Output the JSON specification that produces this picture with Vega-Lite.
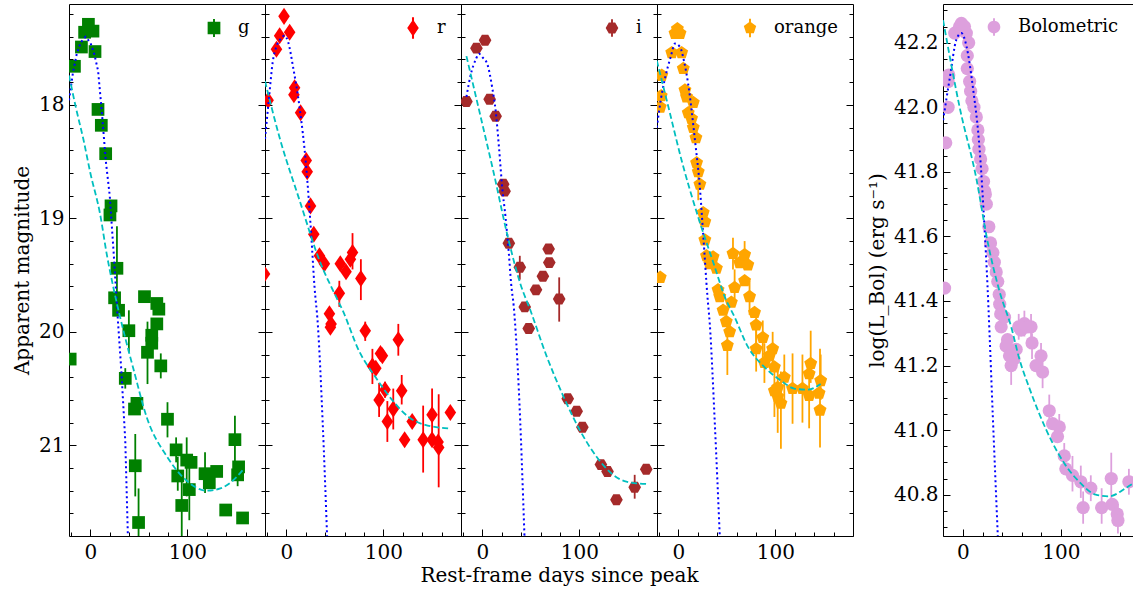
{
"$schema": "https://vega.github.io/schema/vega-lite/v6.json",
"padding": {"left": 12, "top": 3, "right": 0, "bottom": 0},
"config": {
 "font": "DejaVu Serif",
 "view": {"stroke": "#000000", "strokeWidth": 1},
 "axis": {"grid": false, "domain": false, "labelFont": "DejaVu Serif", "labelFontSize": 20, "labelColor": "#000000", "titleFont": "DejaVu Serif", "titleFontSize": 20, "titleFontWeight": "normal", "titleColor": "#000000", "tickColor": "#000000", "tickWidth": 1, "labelOverlap": false, "labelFlush": false, "labelBound": false},
 "legend": {"labelFont": "DejaVu Serif", "labelFontSize": 18, "labelColor": "#000000", "padding": 0, "symbolStrokeWidth": 0, "symbolOpacity": 1, "orient": "top-right", "offset": 15, "labelOffset": 15, "symbolSize": 150, "title": null}
},
"datasets": {
 "g": [{"t":-20.8,"mag":20.24},{"t":-16.4,"mag":17.66},{"t":-9.2,"mag":17.49},{"t":-5.9,"mag":17.36},{"t":-2.0,"mag":17.29},{"t":2.7,"mag":17.35},{"t":4.8,"mag":17.53},{"t":7.9,"mag":18.04},{"t":11.3,"mag":18.18},{"t":15.8,"mag":18.43},{"t":21.3,"mag":18.89},{"t":20.2,"mag":18.97},{"t":27.4,"mag":19.44,"lo":19.07,"hi":19.81},{"t":25.0,"mag":19.70},{"t":29.1,"mag":19.81},{"t":39.7,"mag":19.99,"lo":19.81,"hi":20.18},{"t":36.0,"mag":20.41,"lo":20.32,"hi":20.50},{"t":45.5,"mag":20.68},{"t":48.0,"mag":20.63},{"t":46.3,"mag":21.18,"lo":20.90,"hi":21.45},{"t":49.7,"mag":21.68,"lo":21.38,"hi":21.95},{"t":55.8,"mag":19.69,"lo":19.65,"hi":19.73},{"t":68.5,"mag":19.75},{"t":70.6,"mag":19.80},{"t":68.5,"mag":19.93},{"t":63.3,"mag":20.03},{"t":63.3,"mag":20.10},{"t":58.9,"mag":20.18,"lo":19.91,"hi":20.46},{"t":72.6,"mag":20.30,"lo":20.19,"hi":20.41},{"t":79.5,"mag":20.77,"lo":20.62,"hi":20.93},{"t":88.4,"mag":21.04,"lo":20.93,"hi":21.15},{"t":90.1,"mag":21.27,"lo":21.10,"hi":21.40},{"t":94.2,"mag":21.53,"lo":21.28,"hi":21.85},{"t":99.3,"mag":21.13,"lo":20.93,"hi":21.45},{"t":103.8,"mag":21.15},{"t":102.0,"mag":21.39,"lo":21.19,"hi":21.66},{"t":118.2,"mag":21.25,"lo":21.06,"hi":21.42},{"t":122.6,"mag":21.33},{"t":130.2,"mag":21.23},{"t":139.5,"mag":21.57,"lo":21.52,"hi":21.62},{"t":149.0,"mag":20.95,"lo":20.74,"hi":21.19},{"t":151.8,"mag":21.26,"lo":21.15,"hi":21.36},{"t":152.8,"mag":21.19},{"t":156.9,"mag":21.64,"lo":21.60,"hi":21.68}],
 "g_blue": [{"t":-22,"mag":17.96},{"t":-18,"mag":17.72},{"t":-14,"mag":17.55},{"t":-10,"mag":17.45},{"t":-5,"mag":17.40},{"t":0,"mag":17.45},{"t":4,"mag":17.55},{"t":8,"mag":17.70},{"t":12,"mag":18.08},{"t":16,"mag":18.50},{"t":20,"mag":18.80},{"t":24,"mag":19.30},{"t":28,"mag":19.85},{"t":32,"mag":20.35},{"t":36,"mag":20.96},{"t":38.7,"mag":21.80}],
 "g_cyan": [{"t":-22,"mag":17.74},{"t":-15,"mag":18.02},{"t":-7,"mag":18.31},{"t":0,"mag":18.60},{"t":10,"mag":18.96},{"t":17,"mag":19.32},{"t":24,"mag":19.62},{"t":35,"mag":20.02},{"t":44.5,"mag":20.33},{"t":58,"mag":20.75},{"t":79,"mag":21.10},{"t":99,"mag":21.31},{"t":120,"mag":21.40},{"t":134,"mag":21.38},{"t":147,"mag":21.31},{"t":157,"mag":21.22}],
 "r": [{"t":-22.5,"mag":19.49},{"t":-18.8,"mag":17.96},{"t":-10.2,"mag":17.51},{"t":-6.9,"mag":17.39},{"t":-2.4,"mag":17.22},{"t":3.4,"mag":17.36},{"t":8.5,"mag":17.85},{"t":7.8,"mag":17.91},{"t":14.7,"mag":18.07},{"t":20.5,"mag":18.49},{"t":21.5,"mag":18.59},{"t":24.9,"mag":18.89},{"t":28.3,"mag":19.14},{"t":34.1,"mag":19.33},{"t":39.2,"mag":19.40},{"t":55.6,"mag":19.40},{"t":61.5,"mag":19.47},{"t":68.2,"mag":19.30,"lo":19.13,"hi":19.45},{"t":66.0,"mag":19.36},{"t":76.8,"mag":19.53,"lo":19.36,"hi":19.72},{"t":54.6,"mag":19.66,"lo":19.55,"hi":19.78},{"t":44.4,"mag":19.84},{"t":46.1,"mag":19.93},{"t":45.4,"mag":19.96},{"t":81.3,"mag":19.99,"lo":19.91,"hi":20.08},{"t":115.4,"mag":20.07,"lo":19.93,"hi":20.21},{"t":99.0,"mag":20.21},{"t":97.0,"mag":20.19},{"t":88.7,"mag":20.30,"lo":20.15,"hi":20.46},{"t":92.2,"mag":20.32},{"t":101.7,"mag":20.51,"lo":20.44,"hi":20.58},{"t":95.6,"mag":20.60,"lo":20.45,"hi":20.75},{"t":110.2,"mag":20.68,"lo":20.50,"hi":20.86},{"t":118.9,"mag":20.52,"lo":20.38,"hi":20.64},{"t":104.1,"mag":20.79,"lo":20.61,"hi":20.97},{"t":129.7,"mag":20.79},{"t":121.9,"mag":20.95},{"t":141.0,"mag":20.95,"lo":20.65,"hi":21.24},{"t":150.2,"mag":20.73,"lo":20.50,"hi":20.98},{"t":150.2,"mag":20.95},{"t":156.4,"mag":20.97},{"t":157.0,"mag":21.02,"lo":20.55,"hi":21.37},{"t":169.0,"mag":20.71}],
 "r_blue": [{"t":-22,"mag":18.30},{"t":-18,"mag":17.95},{"t":-14,"mag":17.62},{"t":-10,"mag":17.48},{"t":-6,"mag":17.42},{"t":-2,"mag":17.39},{"t":2,"mag":17.45},{"t":7,"mag":17.67},{"t":13.6,"mag":18.02},{"t":20.5,"mag":18.55},{"t":25.6,"mag":19.14},{"t":29,"mag":19.60},{"t":32.4,"mag":19.93},{"t":37.5,"mag":20.81},{"t":42,"mag":21.80}],
 "r_cyan": [{"t":-22,"mag":17.79},{"t":-6.9,"mag":18.29},{"t":13.6,"mag":18.84},{"t":34.1,"mag":19.37},{"t":51.2,"mag":19.69},{"t":58,"mag":19.81},{"t":75,"mag":20.17},{"t":92,"mag":20.40},{"t":109,"mag":20.60},{"t":126,"mag":20.75},{"t":143,"mag":20.82},{"t":167,"mag":20.85}],
 "i": [{"t":-16.4,"mag":17.97},{"t":-6.1,"mag":17.50},{"t":2.8,"mag":17.43},{"t":7.5,"mag":17.95},{"t":13.7,"mag":18.10},{"t":21.5,"mag":18.70},{"t":22.9,"mag":18.76},{"t":27.3,"mag":19.22},{"t":38.6,"mag":19.43,"lo":19.33,"hi":19.54},{"t":68.3,"mag":19.27},{"t":69.0,"mag":19.39},{"t":62.4,"mag":19.51},{"t":55.3,"mag":19.63},{"t":79.2,"mag":19.71,"lo":19.52,"hi":19.91},{"t":43.7,"mag":19.78},{"t":47.8,"mag":19.97},{"t":88.0,"mag":20.59},{"t":97.2,"mag":20.70},{"t":103.1,"mag":20.84},{"t":122.2,"mag":21.17},{"t":129.0,"mag":21.23},{"t":138.2,"mag":21.48},{"t":157.0,"mag":21.37,"lo":21.26,"hi":21.47},{"t":168.9,"mag":21.21}],
 "i_blue": [{"t":-16.4,"mag":17.93},{"t":-11.9,"mag":17.73},{"t":-6.8,"mag":17.60},{"t":-3.4,"mag":17.55},{"t":0,"mag":17.58},{"t":5.1,"mag":17.64},{"t":10.2,"mag":17.85},{"t":13.7,"mag":18.05},{"t":17.1,"mag":18.37},{"t":20.5,"mag":18.73},{"t":23.9,"mag":18.99},{"t":27.3,"mag":19.31},{"t":29.7,"mag":19.58},{"t":32.4,"mag":19.78},{"t":37.6,"mag":20.51},{"t":43.4,"mag":21.80}],
 "i_cyan": [{"t":-16.4,"mag":17.57},{"t":-1.6,"mag":18.11},{"t":12,"mag":18.61},{"t":25.6,"mag":19.14},{"t":39.3,"mag":19.58},{"t":49.5,"mag":19.81},{"t":66.5,"mag":20.22},{"t":83.6,"mag":20.57},{"t":100.7,"mag":20.87},{"t":117.7,"mag":21.10},{"t":134.8,"mag":21.26},{"t":148.4,"mag":21.32},{"t":168.9,"mag":21.34}],
 "o": [{"t":-18.7,"mag":19.52},{"t":-17.1,"mag":17.74},{"t":-17.7,"mag":17.92},{"t":-18.7,"mag":18.02},{"t":-6.8,"mag":17.54},{"t":-3.4,"mag":17.37},{"t":-1.0,"mag":17.33},{"t":1.7,"mag":17.37},{"t":3.4,"mag":17.54},{"t":5.1,"mag":17.68},{"t":6.8,"mag":17.87},{"t":8.5,"mag":17.93},{"t":15.4,"mag":17.98},{"t":10.2,"mag":18.07},{"t":13.6,"mag":18.12},{"t":15.4,"mag":18.20},{"t":18.1,"mag":18.29},{"t":18.8,"mag":18.51},{"t":20.5,"mag":18.59,"lo":18.48,"hi":18.84},{"t":22.2,"mag":18.70},{"t":25.6,"mag":18.95},{"t":27.3,"mag":19.03},{"t":27.3,"mag":19.19},{"t":29.0,"mag":19.33},{"t":32.4,"mag":19.40},{"t":35.8,"mag":19.34},{"t":39.2,"mag":19.44},{"t":40.9,"mag":19.63},{"t":42.7,"mag":19.69},{"t":46.1,"mag":19.81},{"t":49.4,"mag":19.91},{"t":52.9,"mag":20.00},{"t":50.5,"mag":20.12,"lo":19.95,"hi":20.38},{"t":54.6,"mag":19.74},{"t":56.3,"mag":19.31,"lo":19.17,"hi":19.45},{"t":58.0,"mag":19.61,"lo":19.45,"hi":19.75},{"t":63.2,"mag":19.39},{"t":68.3,"mag":19.32,"lo":19.20,"hi":19.45},{"t":71.6,"mag":19.41},{"t":68.3,"mag":19.55},{"t":73.4,"mag":19.69,"lo":19.55,"hi":19.85},{"t":78.5,"mag":19.83},{"t":80.2,"mag":19.94,"lo":19.80,"hi":20.12},{"t":87.0,"mag":20.05,"lo":19.90,"hi":20.30},{"t":80.2,"mag":20.15,"lo":19.98,"hi":20.35},{"t":97.2,"mag":20.15,"lo":20.00,"hi":20.35},{"t":93.9,"mag":20.21},{"t":88.7,"mag":20.27,"lo":20.10,"hi":20.45},{"t":99.0,"mag":20.31},{"t":109.2,"mag":20.40,"lo":20.20,"hi":20.60},{"t":102.4,"mag":20.49,"lo":20.30,"hi":20.89},{"t":102.4,"mag":20.57},{"t":105.7,"mag":20.63,"lo":20.35,"hi":21.03},{"t":99.0,"mag":20.52,"lo":20.30,"hi":20.75},{"t":117.7,"mag":20.50,"lo":20.19,"hi":20.81},{"t":127.9,"mag":20.50,"lo":20.20,"hi":20.80},{"t":134.8,"mag":20.56,"lo":20.35,"hi":20.85},{"t":136.4,"mag":20.28,"lo":19.99,"hi":20.45},{"t":134.8,"mag":20.37},{"t":146.7,"mag":20.43,"lo":20.20,"hi":20.60},{"t":145.0,"mag":20.54},{"t":146.0,"mag":20.69,"lo":20.15,"hi":21.02}],
 "o_blue": [{"t":-22.2,"mag":18.20},{"t":-18,"mag":17.95},{"t":-13.6,"mag":17.76},{"t":-8,"mag":17.58},{"t":-3.4,"mag":17.46},{"t":1.7,"mag":17.49},{"t":6,"mag":17.62},{"t":10.2,"mag":17.82},{"t":17.1,"mag":18.31},{"t":22.2,"mag":18.73},{"t":25.6,"mag":19.14},{"t":30,"mag":19.69},{"t":32.4,"mag":19.93},{"t":37.6,"mag":20.81},{"t":42.7,"mag":21.80}],
 "o_cyan": [{"t":-22.2,"mag":17.61},{"t":-10.2,"mag":18.02},{"t":3.4,"mag":18.49},{"t":20.5,"mag":18.99},{"t":37.6,"mag":19.43},{"t":47.8,"mag":19.69},{"t":58,"mag":19.87},{"t":71.6,"mag":20.13},{"t":88.7,"mag":20.31},{"t":105.7,"mag":20.43},{"t":119.4,"mag":20.50},{"t":133,"mag":20.51},{"t":146.7,"mag":20.46}],
 "bol": [{"t":-18.8,"logL":41.44},{"t":-17.6,"logL":41.89},{"t":-15.2,"logL":42.00},{"t":-15.2,"logL":42.08},{"t":-14.5,"logL":42.10},{"t":-8.4,"logL":42.23},{"t":-3.5,"logL":42.25},{"t":-1.6,"logL":42.26},{"t":1.5,"logL":42.25},{"t":3.4,"logL":42.23},{"t":5.8,"logL":42.20},{"t":4.4,"logL":42.16},{"t":4.4,"logL":42.12},{"t":6.8,"logL":42.08},{"t":7.8,"logL":42.05},{"t":9.1,"logL":42.02},{"t":11.2,"logL":42.00},{"t":13.6,"logL":41.97},{"t":15.2,"logL":41.93},{"t":15.7,"logL":41.90},{"t":16.3,"logL":41.87},{"t":18.0,"logL":41.84},{"t":19.5,"logL":41.81},{"t":21.0,"logL":41.77},{"t":22.1,"logL":41.74},{"t":22.8,"logL":41.73},{"t":23.8,"logL":41.70},{"t":26.4,"logL":41.63},{"t":28.1,"logL":41.58},{"t":30.5,"logL":41.55},{"t":32.0,"logL":41.52},{"t":33.9,"logL":41.49},{"t":35.5,"logL":41.46},{"t":37.0,"logL":41.42},{"t":37.5,"logL":41.39},{"t":38.5,"logL":41.36},{"t":39.0,"logL":41.32},{"t":42.4,"logL":41.35},{"t":44.1,"logL":41.26},{"t":47.5,"logL":41.23,"lo":41.18,"hi":41.28},{"t":49.2,"logL":41.20,"lo":41.14,"hi":41.25},{"t":45.5,"logL":41.28},{"t":52.0,"logL":41.22},{"t":54.3,"logL":41.25},{"t":56.9,"logL":41.32,"lo":41.28,"hi":41.36},{"t":59.3,"logL":41.31},{"t":62.7,"logL":41.33,"lo":41.29,"hi":41.37},{"t":66.1,"logL":41.32},{"t":69.5,"logL":41.32,"lo":41.28,"hi":41.36},{"t":70.5,"logL":41.27,"lo":41.22,"hi":41.30},{"t":79.7,"logL":41.23,"lo":41.20,"hi":41.27},{"t":74.6,"logL":41.20},{"t":81.3,"logL":41.18,"lo":41.13,"hi":41.22},{"t":88.1,"logL":41.06,"lo":41.01,"hi":41.11},{"t":91.5,"logL":41.02},{"t":98.3,"logL":41.01,"lo":40.97,"hi":41.05},{"t":96.5,"logL":40.98},{"t":103.4,"logL":40.92,"lo":40.88,"hi":40.96},{"t":105.0,"logL":40.88},{"t":111.8,"logL":40.86,"lo":40.81,"hi":40.92},{"t":120.3,"logL":40.84,"lo":40.79,"hi":40.89},{"t":130.5,"logL":40.82,"lo":40.78,"hi":40.86},{"t":122.7,"logL":40.76,"lo":40.71,"hi":40.81},{"t":141.6,"logL":40.76,"lo":40.71,"hi":40.82},{"t":151.4,"logL":40.85,"lo":40.78,"hi":40.93},{"t":152.4,"logL":40.77},{"t":157.5,"logL":40.74},{"t":158.2,"logL":40.72,"lo":40.68,"hi":40.77},{"t":169.4,"logL":40.84,"lo":40.80,"hi":40.88}],
 "bol_blue": [{"t":-20.3,"logL":41.96},{"t":-13.5,"logL":42.09},{"t":-6.7,"logL":42.21},{"t":-1.6,"logL":42.23},{"t":3.5,"logL":42.19},{"t":10.2,"logL":42.06},{"t":17,"logL":41.87},{"t":22.1,"logL":41.62},{"t":25,"logL":41.45},{"t":27.1,"logL":41.30},{"t":30.5,"logL":41.04},{"t":35.6,"logL":40.67}],
 "bol_cyan": [{"t":-20.3,"logL":42.27},{"t":-3.4,"logL":42.00},{"t":13.6,"logL":41.78},{"t":25.4,"logL":41.58},{"t":37.3,"logL":41.43},{"t":49.2,"logL":41.32},{"t":57.6,"logL":41.22},{"t":67.8,"logL":41.13},{"t":78,"logL":41.05},{"t":91.5,"logL":40.96},{"t":105,"logL":40.89},{"t":118.6,"logL":40.84},{"t":135.6,"logL":40.80},{"t":149.1,"logL":40.795},{"t":166,"logL":40.82},{"t":173.6,"logL":40.835}]
},
"spacing": 13,
"resolve": {"scale": {"color": "independent"}},
"hconcat": [
 {
  "spacing": 0,
  "bounds": "flush",
  "resolve": {"scale": {"color": "independent"}},
  "hconcat": [
   {
    "width": 196, "height": 532,
    "resolve": {"axis": {"x": "independent", "y": "independent"}},
    "layer": [
     {"data": {"name": "g"}, "transform": [{"filter": "isValid(datum.lo)"}],
      "mark": {"type": "rule", "color": "#008000", "strokeWidth": 1.8, "clip": true},
      "encoding": {"x": {"field": "t", "type": "quantitative", "scale": {"domain": [-22, 180], "nice": false, "zero": false}, "axis": null},
                   "y": {"field": "lo", "type": "quantitative", "scale": {"domain": [17.111, 21.799], "reverse": true, "nice": false, "zero": false}, "axis": null},
                   "y2": {"field": "hi"}}},
     {"data": {"name": "g"},
      "mark": {"type": "point", "filled": true, "opacity": 1, "shape": "square", "size": 162, "clip": true},
      "encoding": {"x": {"field": "t", "type": "quantitative", "scale": {"domain": [-22, 180], "nice": false, "zero": false},
                         "axis": {"orient": "bottom", "values": [-20,0,20,40,60,80,100,120,140,160,180], "labelExpr": "datum.value % 100 === 0 ? datum.label : ''", "labelFontSize": {"condition": {"test": "datum.value % 100 === 0", "value": 20}, "value": 0}, "tickSize": {"condition": {"test": "datum.value % 100 === 0", "value": -7}, "value": -4}, "labelPadding": 13, "title": null}},
                   "y": {"field": "mag", "type": "quantitative", "scale": {"domain": [17.111, 21.799], "reverse": true, "nice": false, "zero": false},
                         "axis": {"orient": "left", "values": [17.2,17.4,17.6,17.8,18,18.2,18.4,18.6,18.8,19,19.2,19.4,19.6,19.8,20,20.2,20.4,20.6,20.8,21,21.2,21.4,21.6], "labelExpr": "abs(datum.value-round(datum.value))<0.01 ? format(datum.value,'.0f') : ''", "labelFontSize": {"condition": {"test": "abs(datum.value-round(datum.value))<0.01", "value": 20}, "value": 0}, "tickSize": {"condition": {"test": "abs(datum.value-round(datum.value))<0.01", "value": -7}, "value": -4}, "labelPadding": 12, "title": "Apparent magnitude", "titlePadding": 6}},
                   "color": {"datum": "g", "type": "nominal", "scale": {"domain": ["g"], "range": ["#008000"]},
                             "legend": {"symbolType": "M-1,-1H1V1H-1Z M-0.15,-1.4H0.15V1.4H-0.15Z", "symbolSize": 162}}}},
     {"data": {"name": "g_blue"},
      "mark": {"type": "line", "color": "#0000ff", "strokeWidth": 2, "strokeDash": [2, 3], "clip": true},
      "encoding": {"x": {"field": "t", "type": "quantitative", "scale": {"domain": [-22, 180], "nice": false, "zero": false}, "axis": null},
                   "y": {"field": "mag", "type": "quantitative", "scale": {"domain": [17.111, 21.799], "reverse": true, "nice": false, "zero": false}, "axis": null}}},
     {"data": {"name": "g_cyan"},
      "mark": {"type": "line", "color": "#00bfbf", "strokeWidth": 1.8, "strokeDash": [6, 3], "clip": true, "interpolate": "monotone"},
      "encoding": {"x": {"field": "t", "type": "quantitative", "scale": {"domain": [-22, 180], "nice": false, "zero": false}, "axis": null},
                   "y": {"field": "mag", "type": "quantitative", "scale": {"domain": [17.111, 21.799], "reverse": true, "nice": false, "zero": false},
                         "axis": {"orient": "right", "values": [17.2,17.4,17.6,17.8,18,18.2,18.4,18.6,18.8,19,19.2,19.4,19.6,19.8,20,20.2,20.4,20.6,20.8,21,21.2,21.4,21.6], "labels": false, "tickSize": {"condition": {"test": "abs(datum.value-round(datum.value))<0.01", "value": -7}, "value": -4}, "title": null}}}}
    ]
   },
   {
    "width": 196, "height": 532,
    "resolve": {"axis": {"x": "independent", "y": "independent"}},
    "layer": [
     {"data": {"name": "r"}, "transform": [{"filter": "isValid(datum.lo)"}],
      "mark": {"type": "rule", "color": "#ff0000", "strokeWidth": 1.8, "clip": true},
      "encoding": {"x": {"field": "t", "type": "quantitative", "scale": {"domain": [-22, 180], "nice": false, "zero": false}, "axis": null},
                   "y": {"field": "lo", "type": "quantitative", "scale": {"domain": [17.111, 21.799], "reverse": true, "nice": false, "zero": false}, "axis": null},
                   "y2": {"field": "hi"}}},
     {"data": {"name": "r"},
      "mark": {"type": "point", "filled": true, "opacity": 1, "shape": "M0,-1L0.68,0L0,1L-0.68,0Z", "size": 290, "clip": true},
      "encoding": {"x": {"field": "t", "type": "quantitative", "scale": {"domain": [-22, 180], "nice": false, "zero": false},
                         "axis": {"orient": "bottom", "values": [-20,0,20,40,60,80,100,120,140,160,180], "labelExpr": "datum.value % 100 === 0 ? datum.label : ''", "labelFontSize": {"condition": {"test": "datum.value % 100 === 0", "value": 20}, "value": 0}, "tickSize": {"condition": {"test": "datum.value % 100 === 0", "value": -7}, "value": -4}, "labelPadding": 13, "title": null}},
                   "y": {"field": "mag", "type": "quantitative", "scale": {"domain": [17.111, 21.799], "reverse": true, "nice": false, "zero": false},
                         "axis": {"orient": "left", "values": [17.2,17.4,17.6,17.8,18,18.2,18.4,18.6,18.8,19,19.2,19.4,19.6,19.8,20,20.2,20.4,20.6,20.8,21,21.2,21.4,21.6], "labels": false, "tickSize": {"condition": {"test": "abs(datum.value-round(datum.value))<0.01", "value": -7}, "value": -4}, "title": null}},
                   "color": {"datum": "r", "type": "nominal", "scale": {"domain": ["r"], "range": ["#ff0000"]},
                             "legend": {"symbolType": "M0,-1L0.68,0L0,1L-0.68,0Z M-0.12,-1.25H0.12V1.25H-0.12Z", "symbolSize": 290}}}},
     {"data": {"name": "r_blue"},
      "mark": {"type": "line", "color": "#0000ff", "strokeWidth": 2, "strokeDash": [2, 3], "clip": true, "interpolate": "monotone"},
      "encoding": {"x": {"field": "t", "type": "quantitative", "scale": {"domain": [-22, 180], "nice": false, "zero": false}, "axis": null},
                   "y": {"field": "mag", "type": "quantitative", "scale": {"domain": [17.111, 21.799], "reverse": true, "nice": false, "zero": false}, "axis": null}}},
     {"data": {"name": "r_cyan"},
      "mark": {"type": "line", "color": "#00bfbf", "strokeWidth": 1.8, "strokeDash": [6, 3], "clip": true, "interpolate": "monotone"},
      "encoding": {"x": {"field": "t", "type": "quantitative", "scale": {"domain": [-22, 180], "nice": false, "zero": false}, "axis": null},
                   "y": {"field": "mag", "type": "quantitative", "scale": {"domain": [17.111, 21.799], "reverse": true, "nice": false, "zero": false},
                         "axis": {"orient": "right", "values": [17.2,17.4,17.6,17.8,18,18.2,18.4,18.6,18.8,19,19.2,19.4,19.6,19.8,20,20.2,20.4,20.6,20.8,21,21.2,21.4,21.6], "labels": false, "tickSize": {"condition": {"test": "abs(datum.value-round(datum.value))<0.01", "value": -7}, "value": -4}, "title": null}}}}
    ]
   },
   {
    "width": 196, "height": 532,
    "resolve": {"axis": {"x": "independent", "y": "independent"}},
    "layer": [
     {"data": {"name": "i"}, "transform": [{"filter": "isValid(datum.lo)"}],
      "mark": {"type": "rule", "color": "#a52a2a", "strokeWidth": 1.8, "clip": true},
      "encoding": {"x": {"field": "t", "type": "quantitative", "scale": {"domain": [-22, 180], "nice": false, "zero": false}, "axis": null},
                   "y": {"field": "lo", "type": "quantitative", "scale": {"domain": [17.111, 21.799], "reverse": true, "nice": false, "zero": false}, "axis": null},
                   "y2": {"field": "hi"}}},
     {"data": {"name": "i"},
      "mark": {"type": "point", "filled": true, "opacity": 1, "shape": "M-1,0L-0.5,-0.866L0.5,-0.866L1,0L0.5,0.866L-0.5,0.866Z", "size": 160, "clip": true},
      "encoding": {"x": {"field": "t", "type": "quantitative", "scale": {"domain": [-22, 180], "nice": false, "zero": false},
                         "axis": {"orient": "bottom", "values": [-20,0,20,40,60,80,100,120,140,160,180], "labelExpr": "datum.value % 100 === 0 ? datum.label : ''", "labelFontSize": {"condition": {"test": "datum.value % 100 === 0", "value": 20}, "value": 0}, "tickSize": {"condition": {"test": "datum.value % 100 === 0", "value": -7}, "value": -4}, "labelPadding": 13, "title": "Rest-frame days since peak", "titlePadding": 3}},
                   "y": {"field": "mag", "type": "quantitative", "scale": {"domain": [17.111, 21.799], "reverse": true, "nice": false, "zero": false},
                         "axis": {"orient": "left", "values": [17.2,17.4,17.6,17.8,18,18.2,18.4,18.6,18.8,19,19.2,19.4,19.6,19.8,20,20.2,20.4,20.6,20.8,21,21.2,21.4,21.6], "labels": false, "tickSize": {"condition": {"test": "abs(datum.value-round(datum.value))<0.01", "value": -7}, "value": -4}, "title": null}},
                   "color": {"datum": "i", "type": "nominal", "scale": {"domain": ["i"], "range": ["#a52a2a"]},
                             "legend": {"symbolType": "M-1,0L-0.5,-0.866L0.5,-0.866L1,0L0.5,0.866L-0.5,0.866Z M-0.15,-1.4H0.15V1.4H-0.15Z", "symbolSize": 160}}}},
     {"data": {"name": "i_blue"},
      "mark": {"type": "line", "color": "#0000ff", "strokeWidth": 2, "strokeDash": [2, 3], "clip": true, "interpolate": "monotone"},
      "encoding": {"x": {"field": "t", "type": "quantitative", "scale": {"domain": [-22, 180], "nice": false, "zero": false}, "axis": null},
                   "y": {"field": "mag", "type": "quantitative", "scale": {"domain": [17.111, 21.799], "reverse": true, "nice": false, "zero": false}, "axis": null}}},
     {"data": {"name": "i_cyan"},
      "mark": {"type": "line", "color": "#00bfbf", "strokeWidth": 1.8, "strokeDash": [6, 3], "clip": true, "interpolate": "monotone"},
      "encoding": {"x": {"field": "t", "type": "quantitative", "scale": {"domain": [-22, 180], "nice": false, "zero": false}, "axis": null},
                   "y": {"field": "mag", "type": "quantitative", "scale": {"domain": [17.111, 21.799], "reverse": true, "nice": false, "zero": false},
                         "axis": {"orient": "right", "values": [17.2,17.4,17.6,17.8,18,18.2,18.4,18.6,18.8,19,19.2,19.4,19.6,19.8,20,20.2,20.4,20.6,20.8,21,21.2,21.4,21.6], "labels": false, "tickSize": {"condition": {"test": "abs(datum.value-round(datum.value))<0.01", "value": -7}, "value": -4}, "title": null}}}}
    ]
   },
   {
    "width": 196, "height": 532,
    "resolve": {"axis": {"x": "independent", "y": "independent"}},
    "layer": [
     {"data": {"name": "o"}, "transform": [{"filter": "isValid(datum.lo)"}],
      "mark": {"type": "rule", "color": "#ffa500", "strokeWidth": 1.8, "clip": true},
      "encoding": {"x": {"field": "t", "type": "quantitative", "scale": {"domain": [-22, 180], "nice": false, "zero": false}, "axis": null},
                   "y": {"field": "lo", "type": "quantitative", "scale": {"domain": [17.111, 21.799], "reverse": true, "nice": false, "zero": false}, "axis": null},
                   "y2": {"field": "hi"}}},
     {"data": {"name": "o"},
      "mark": {"type": "point", "filled": true, "opacity": 1, "shape": "M0,-1L0.951,-0.309L0.588,0.809L-0.588,0.809L-0.951,-0.309Z", "size": 185, "clip": true},
      "encoding": {"x": {"field": "t", "type": "quantitative", "scale": {"domain": [-22, 180], "nice": false, "zero": false},
                         "axis": {"orient": "bottom", "values": [-20,0,20,40,60,80,100,120,140,160,180], "labelExpr": "datum.value % 100 === 0 ? datum.label : ''", "labelFontSize": {"condition": {"test": "datum.value % 100 === 0", "value": 20}, "value": 0}, "tickSize": {"condition": {"test": "datum.value % 100 === 0", "value": -7}, "value": -4}, "labelPadding": 13, "title": null}},
                   "y": {"field": "mag", "type": "quantitative", "scale": {"domain": [17.111, 21.799], "reverse": true, "nice": false, "zero": false},
                         "axis": {"orient": "left", "values": [17.2,17.4,17.6,17.8,18,18.2,18.4,18.6,18.8,19,19.2,19.4,19.6,19.8,20,20.2,20.4,20.6,20.8,21,21.2,21.4,21.6], "labels": false, "tickSize": {"condition": {"test": "abs(datum.value-round(datum.value))<0.01", "value": -7}, "value": -4}, "title": null}},
                   "color": {"datum": "orange", "type": "nominal", "scale": {"domain": ["orange"], "range": ["#ffa500"]},
                             "legend": {"symbolType": "M0,-1L0.951,-0.309L0.588,0.809L-0.588,0.809L-0.951,-0.309Z M-0.15,-1.4H0.15V1.4H-0.15Z", "symbolSize": 170}}}},
     {"data": {"name": "o_blue"},
      "mark": {"type": "line", "color": "#0000ff", "strokeWidth": 2, "strokeDash": [2, 3], "clip": true, "interpolate": "monotone"},
      "encoding": {"x": {"field": "t", "type": "quantitative", "scale": {"domain": [-22, 180], "nice": false, "zero": false}, "axis": null},
                   "y": {"field": "mag", "type": "quantitative", "scale": {"domain": [17.111, 21.799], "reverse": true, "nice": false, "zero": false}, "axis": null}}},
     {"data": {"name": "o_cyan"},
      "mark": {"type": "line", "color": "#00bfbf", "strokeWidth": 1.8, "strokeDash": [6, 3], "clip": true, "interpolate": "monotone"},
      "encoding": {"x": {"field": "t", "type": "quantitative", "scale": {"domain": [-22, 180], "nice": false, "zero": false}, "axis": null},
                   "y": {"field": "mag", "type": "quantitative", "scale": {"domain": [17.111, 21.799], "reverse": true, "nice": false, "zero": false},
                         "axis": {"orient": "right", "values": [17.2,17.4,17.6,17.8,18,18.2,18.4,18.6,18.8,19,19.2,19.4,19.6,19.8,20,20.2,20.4,20.6,20.8,21,21.2,21.4,21.6], "labels": false, "tickSize": {"condition": {"test": "abs(datum.value-round(datum.value))<0.01", "value": -7}, "value": -4}, "title": null}}}}
    ]
   }
  ]
 },
 {
  "width": 190, "height": 532,
  "view": {"stroke": null},
  "resolve": {"axis": {"x": "independent", "y": "independent"}},
  "layer": [
   {"data": {"name": "bol"}, "transform": [{"filter": "isValid(datum.lo)"}],
    "mark": {"type": "rule", "color": "#dda0dd", "strokeWidth": 1.8, "clip": true},
    "encoding": {"x": {"field": "t", "type": "quantitative", "scale": {"domain": [-20.4, 173.6], "nice": false, "zero": false}, "axis": null},
                 "y": {"field": "lo", "type": "quantitative", "scale": {"domain": [40.672, 42.32], "nice": false, "zero": false}, "axis": null},
                 "y2": {"field": "hi"}}},
   {"data": {"name": "bol"},
    "mark": {"type": "point", "filled": true, "opacity": 1, "shape": "circle", "size": 175, "clip": true},
    "encoding": {"x": {"field": "t", "type": "quantitative", "scale": {"domain": [-20.4, 173.6], "nice": false, "zero": false},
                       "axis": {"orient": "bottom", "domain": true, "domainColor": "#000000", "domainWidth": 1, "values": [-20,0,20,40,60,80,100,120,140,160], "labelExpr": "datum.value % 100 === 0 ? datum.label : ''", "labelFontSize": {"condition": {"test": "datum.value % 100 === 0", "value": 20}, "value": 0}, "tickSize": {"condition": {"test": "datum.value % 100 === 0", "value": -7}, "value": -4}, "labelPadding": 13, "title": null}},
                 "y": {"field": "logL", "type": "quantitative", "scale": {"domain": [40.672, 42.32], "nice": false, "zero": false},
                       "axis": {"orient": "left", "domain": true, "domainColor": "#000000", "domainWidth": 1, "values": [40.7,40.75,40.8,40.85,40.9,40.95,41,41.05,41.1,41.15,41.2,41.25,41.3,41.35,41.4,41.45,41.5,41.55,41.6,41.65,41.7,41.75,41.8,41.85,41.9,41.95,42,42.05,42.1,42.15,42.2,42.25,42.3], "labelExpr": "abs(datum.value*5-round(datum.value*5))<0.01 ? format(datum.value,'.1f') : ''", "labelFontSize": {"condition": {"test": "abs(datum.value*5-round(datum.value*5))<0.01", "value": 20}, "value": 0}, "tickSize": {"condition": {"test": "abs(datum.value*5-round(datum.value*5))<0.01", "value": -7}, "value": -4}, "labelPadding": 12, "title": "log(L_Bol) (erg s⁻¹)", "titlePadding": 6}},
                 "color": {"datum": "Bolometric", "type": "nominal", "scale": {"domain": ["Bolometric"], "range": ["#dda0dd"]},
                           "legend": {"symbolType": "M-1,0A1,1 0 1,1 1,0A1,1 0 1,1 -1,0Z M-0.15,-1.4H0.15V1.4H-0.15Z", "symbolSize": 160, "offset": 14}}}},
   {"data": {"name": "bol_blue"},
    "mark": {"type": "line", "color": "#0000ff", "strokeWidth": 2, "strokeDash": [2, 3], "clip": true, "interpolate": "monotone"},
    "encoding": {"x": {"field": "t", "type": "quantitative", "scale": {"domain": [-20.4, 173.6], "nice": false, "zero": false}, "axis": null},
                 "y": {"field": "logL", "type": "quantitative", "scale": {"domain": [40.672, 42.32], "nice": false, "zero": false}, "axis": null}}},
   {"data": {"name": "bol_cyan"},
    "mark": {"type": "line", "color": "#00bfbf", "strokeWidth": 1.8, "strokeDash": [6, 3], "clip": true, "interpolate": "monotone"},
    "encoding": {"x": {"field": "t", "type": "quantitative", "scale": {"domain": [-20.4, 173.6], "nice": false, "zero": false},
                       "axis": {"orient": "top", "domain": true, "domainColor": "#000000", "domainWidth": 1, "ticks": false, "labels": false, "title": null}},
                 "y": {"field": "logL", "type": "quantitative", "scale": {"domain": [40.672, 42.32], "nice": false, "zero": false}, "axis": null}}}
  ]
 }
]
}
